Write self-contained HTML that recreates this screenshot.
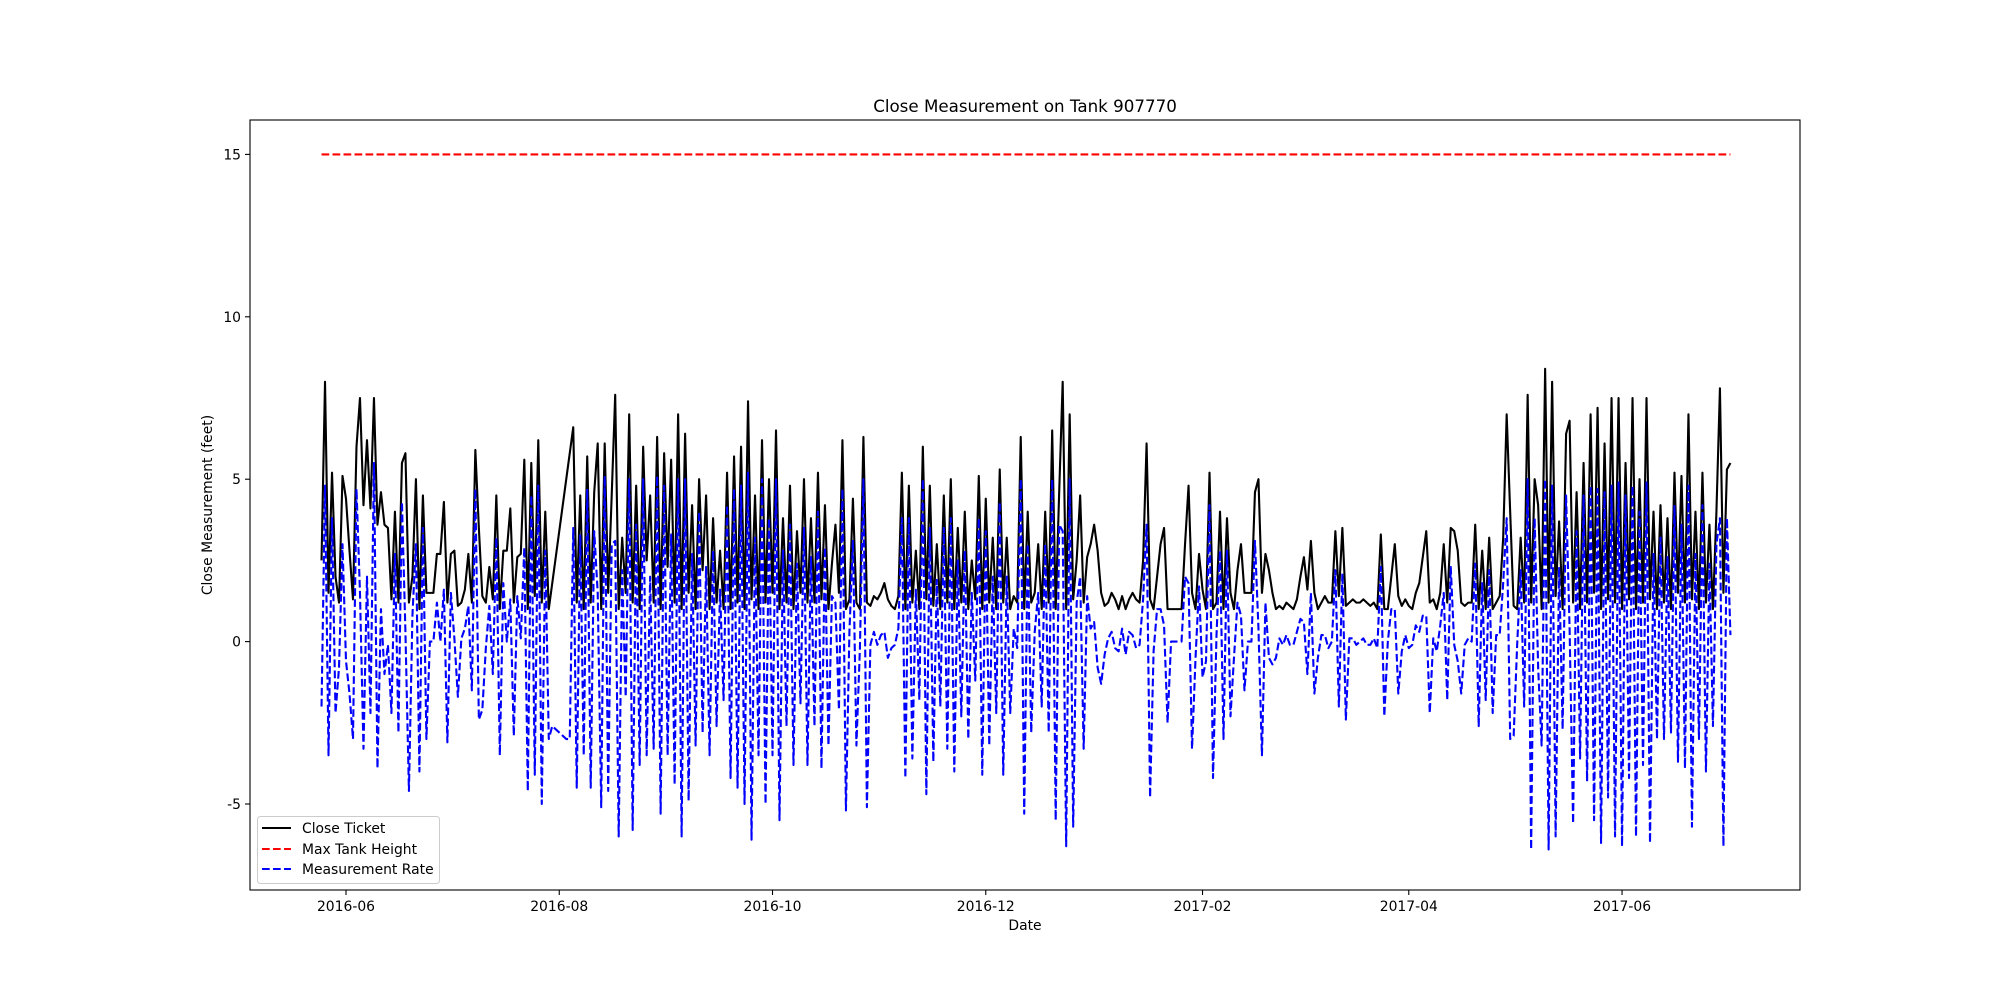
<!DOCTYPE html>
<html><head><meta charset="utf-8"><style>
html,body{margin:0;padding:0;background:#fff;}
svg{display:block;font-family:"DejaVu Sans","Liberation Sans",sans-serif;}
</style></head><body>
<svg id="chart" width="2000" height="1000" viewBox="0 0 2000 1000" xmlns="http://www.w3.org/2000/svg">
<rect x="0" y="0" width="2000" height="1000" fill="#fff"/>
<text x="1025" y="112" text-anchor="middle" font-size="16.7" fill="#000">Close Measurement on Tank 907770</text>
<g id="plot"></g>
<g id="axes"></g>
<text x="1025" y="930" text-anchor="middle" font-size="13.9" fill="#000">Date</text>
<text transform="translate(212,505) rotate(-90)" text-anchor="middle" font-size="13.9" fill="#000">Close Measurement (feet)</text>
<g id="legend">
<rect x="257.5" y="816.5" width="182" height="67" rx="3" fill="#fff" fill-opacity="0.8" stroke="#ccc" stroke-width="1"/>
<line x1="262" y1="828" x2="291" y2="828" stroke="#000" stroke-width="2.1"/>
<text x="302" y="833" font-size="13.9" fill="#000">Close Ticket</text>
<line x1="262" y1="849" x2="291" y2="849" stroke="#f00" stroke-width="2.1" stroke-dasharray="7.7 3.3"/>
<text x="302" y="854" font-size="13.9" fill="#000">Max Tank Height</text>
<line x1="262" y1="869" x2="291" y2="869" stroke="#00f" stroke-width="2.1" stroke-dasharray="7.7 3.3"/>
<text x="302" y="874" font-size="13.9" fill="#000">Measurement Rate</text>
</g>
</svg>
<script>
// days relative to 2016-06-01; series start at day -7 with one reading per day
const startDay = -7;
const closeTicket = [
2.5,8.0,1.5,5.2,2.0,1.2,5.1,4.4,2.8,1.3,6.0,7.5,4.2,6.2,4.1,7.5,3.6,4.6,3.6,3.5,
1.3,4.0,1.2,5.5,5.8,1.2,2.0,5.0,1.0,4.5,1.5,1.5,1.5,2.7,2.7,4.3,1.2,2.7,2.8,1.1,
1.2,1.6,2.7,1.2,5.9,3.5,1.4,1.2,2.3,1.3,4.5,1.0,2.8,2.8,4.1,1.2,2.6,2.7,5.6,1.0,
5.5,1.4,6.2,1.2,4.0,1.0,1.8,2.6,3.4,4.2,5.0,5.8,6.6,1.2,4.5,1.0,5.7,1.2,4.6,6.1,
1.0,6.1,1.5,4.5,7.6,1.0,3.2,1.5,7.0,1.2,4.8,1.0,6.0,2.5,4.5,1.2,6.3,1.0,5.8,2.3,
5.6,1.2,7.0,1.0,6.4,1.5,4.2,1.0,5.0,2.2,4.5,1.0,3.8,1.2,2.8,1.0,5.2,1.0,5.7,1.2,
6.0,1.0,7.4,1.3,4.5,1.0,6.2,1.2,5.0,1.5,6.5,1.0,3.8,1.2,4.8,1.0,3.4,1.5,5.0,1.2,
3.8,1.2,5.2,1.3,4.2,1.0,2.4,3.6,1.5,6.2,1.0,1.3,4.4,1.2,1.0,6.3,1.2,1.1,1.4,1.3,
1.5,1.8,1.3,1.1,1.0,1.4,5.2,1.0,4.8,1.2,2.8,1.0,6.0,1.3,4.8,1.1,3.0,1.0,4.5,1.2,
5.0,1.0,3.5,1.2,4.0,1.0,2.5,1.3,5.1,1.0,4.4,1.2,3.2,1.0,5.3,1.2,3.2,1.0,1.4,1.2,
6.3,1.0,4.0,1.2,1.5,3.0,1.0,4.0,1.2,6.5,1.0,4.6,8.0,1.0,7.0,1.3,2.5,4.5,1.2,2.6,
3.0,3.6,2.8,1.5,1.1,1.2,1.5,1.3,1.0,1.4,1.0,1.3,1.5,1.3,1.2,2.5,6.1,1.3,1.0,2.0,
3.0,3.5,1.0,1.0,1.0,1.0,1.0,3.0,4.8,1.5,1.0,2.7,1.6,1.0,5.2,1.0,1.2,4.0,1.0,3.8,
1.5,1.0,2.2,3.0,1.5,1.5,1.5,4.6,5.0,1.5,2.7,2.2,1.5,1.0,1.1,1.0,1.2,1.1,1.0,1.3,
2.0,2.6,1.6,3.1,1.5,1.0,1.2,1.4,1.2,1.2,3.4,1.4,3.5,1.1,1.2,1.3,1.2,1.2,1.3,1.2,
1.1,1.2,1.0,3.3,1.0,1.0,2.0,3.0,1.4,1.1,1.3,1.1,1.0,1.5,1.8,2.6,3.4,1.2,1.3,1.0,
1.5,3.0,1.2,3.5,3.4,2.8,1.2,1.1,1.2,1.2,3.6,1.0,2.8,1.0,3.2,1.0,1.2,1.4,3.2,7.0,
4.0,1.1,1.0,3.2,1.2,7.6,1.2,5.0,4.2,1.0,8.4,1.2,8.0,1.4,3.7,1.0,6.4,6.8,1.2,4.6,
1.0,5.5,1.2,7.0,1.5,7.2,1.0,6.1,1.3,7.5,1.2,7.5,1.0,5.5,1.3,7.5,1.0,5.0,1.2,7.5,
1.3,4.0,1.0,4.2,1.2,3.8,1.0,5.2,1.5,5.1,1.2,7.0,1.3,4.0,1.0,5.2,1.2,3.6,1.0,4.0,
7.8,1.5,5.3,5.5];
const measurementRate = [
-2.0,4.8,-3.5,3.8,-2.2,-0.8,3.0,-0.6,-1.6,-3.0,4.7,1.5,-3.3,2.0,-2.2,5.5,-3.9,1.0,-1.0,-0.1,
-2.2,2.7,-2.8,4.3,0.3,-4.6,0.8,3.0,-4.0,3.5,-3.0,0.0,0.0,1.2,0.0,1.6,-3.1,1.5,0.1,-1.7,
0.1,0.4,1.1,-1.5,4.7,-2.4,-2.1,-0.2,1.1,-1.0,3.2,-3.5,1.8,0.0,1.3,-2.9,1.4,0.1,2.9,-4.6,
4.5,-4.1,4.8,-5.0,2.8,-3.0,-2.6,-2.7,-2.8,-2.9,-3.0,-3.0,3.5,-4.5,3.3,-3.5,4.7,-4.5,3.4,1.5,
-5.1,5.1,-4.6,3.0,3.1,-6.0,2.2,-1.7,5.0,-5.8,3.6,-3.8,5.0,-3.5,2.0,-3.3,5.1,-5.3,4.8,-3.5,
3.3,-4.4,5.0,-6.0,5.0,-4.9,2.7,-3.2,4.0,-2.8,2.3,-3.5,2.8,-2.6,1.6,-1.8,4.2,-4.2,4.7,-4.5,
4.8,-5.0,5.2,-6.1,3.2,-3.5,5.0,-5.0,3.8,-3.5,5.0,-5.5,2.8,-2.6,3.6,-3.8,2.4,-1.9,3.5,-3.8,
2.6,-2.6,4.0,-3.9,2.9,-3.2,1.4,1.2,-2.1,4.7,-5.2,0.3,3.1,-3.2,-0.2,5.0,-5.1,-0.1,0.3,-0.1,
0.2,0.3,-0.5,-0.2,-0.1,0.4,3.8,-4.2,3.8,-3.6,1.6,-1.8,5.0,-4.7,3.5,-3.7,1.9,-2.0,3.5,-3.3,
3.8,-4.0,2.5,-2.3,2.8,-3.0,1.5,-1.2,3.8,-4.1,3.4,-3.2,2.0,-2.2,4.3,-4.1,2.0,-2.2,0.4,-0.2,
5.0,-5.3,3.0,-2.8,0.3,1.5,-2.0,3.0,-2.8,5.0,-5.5,3.6,3.4,-6.3,5.0,-5.7,1.2,2.0,-3.3,1.4,
0.4,0.6,-0.8,-1.3,-0.4,0.1,0.3,-0.2,-0.3,0.4,-0.4,0.3,0.2,-0.2,-0.1,1.3,3.6,-4.8,-0.3,1.0,
1.0,0.5,-2.5,0.0,0.0,0.0,0.0,2.0,1.8,-3.3,-0.5,1.7,-1.1,-0.6,4.2,-4.2,0.2,2.8,-3.0,2.8,
-2.3,-0.5,1.2,0.8,-1.5,0.0,0.0,3.1,0.4,-3.5,1.2,-0.5,-0.7,-0.5,0.1,-0.1,0.2,-0.1,-0.1,0.3,
0.7,0.6,-1.0,1.5,-1.6,-0.5,0.2,0.2,-0.2,0.0,2.2,-2.0,2.1,-2.4,0.1,0.1,-0.1,0.0,0.1,-0.1,
-0.1,0.1,-0.2,2.3,-2.3,0.0,1.0,1.0,-1.6,-0.3,0.2,-0.2,-0.1,0.5,0.3,0.8,0.8,-2.2,0.1,-0.3,
0.5,1.5,-1.8,2.3,-0.1,-0.6,-1.6,-0.1,0.1,0.0,2.4,-2.6,1.8,-1.8,2.2,-2.2,0.2,0.2,1.8,3.8,
-3.0,-2.9,-0.1,2.2,-2.0,5.0,-6.4,3.8,-0.8,-3.2,5.0,-6.4,4.8,-6.0,2.3,-2.7,4.5,0.4,-5.6,3.4,
-3.6,4.5,-4.3,4.8,-5.5,4.7,-6.2,4.6,-4.8,4.8,-6.0,4.9,-6.3,4.5,-4.2,4.8,-6.0,4.0,-3.8,4.9,
-6.2,2.7,-3.0,3.2,-3.0,2.6,-2.8,4.2,-3.7,3.6,-3.9,4.8,-5.7,2.7,-3.0,4.2,-4.0,2.4,-2.6,3.0,
3.8,-6.3,3.8,0.2];
const maxTankHeight = 15;
const maxTankDays = [-7, 396];
const yTickValues = [-5, 0, 5, 10, 15];
const xTickDays = [0, 61, 122, 183, 245, 304, 365];
const xTickLabels = ["2016-06","2016-08","2016-10","2016-12","2017-02","2017-04","2017-06"];

const NS = "http://www.w3.org/2000/svg";
const L = 250, R = 1800, T = 120, B = 890;
const xScale = d => 346 + d * 3.496;
const yScale = v => 641.6 - v * 32.48;

function mk(tag, attrs, parent) {
  const el = document.createElementNS(NS, tag);
  for (const k in attrs) el.setAttribute(k, attrs[k]);
  parent.appendChild(el);
  return el;
}
const plot = document.getElementById('plot');
const axes = document.getElementById('axes');

function seriesPath(vals) {
  return vals.map((v, i) => (i ? 'L' : 'M') + xScale(startDay + i).toFixed(2) + ' ' + yScale(v).toFixed(2)).join(' ');
}
const close = mk('path', {d: seriesPath(closeTicket), fill: 'none', stroke: '#000', 'stroke-width': 2.1, 'stroke-linejoin': 'round'}, plot);


const maxLine = mk('line', {x1: xScale(maxTankDays[0]), x2: xScale(maxTankDays[1]), y1: yScale(maxTankHeight), y2: yScale(maxTankHeight), stroke: '#f00', 'stroke-width': 2.1, 'stroke-dasharray': '7.7 3.3'}, plot);


const rate = mk('path', {d: seriesPath(measurementRate), fill: 'none', stroke: '#00f', 'stroke-width': 2.1, 'stroke-dasharray': '7.7 3.3', 'stroke-linejoin': 'round'}, plot);



const frame = mk('rect', {x: L, y: T, width: R - L, height: B - T, fill: 'none', stroke: '#000', 'stroke-width': 1.1}, axes);



yTickValues.forEach(v => {
  const y = yScale(v);
  const t = mk('line', {x1: L - 5, x2: L, y1: y, y2: y, stroke: '#000', 'stroke-width': 1.1}, axes);
  
  
  const lb = mk('text', {x: L - 9, y: y + 5, 'text-anchor': 'end', 'font-size': 13.9, fill: '#000'}, axes);
  lb.textContent = String(v);
  
  
});
xTickDays.forEach((d, i) => {
  const x = xScale(d);
  const t = mk('line', {x1: x, x2: x, y1: B, y2: B + 5, stroke: '#000', 'stroke-width': 1.1}, axes);
  
  
  const lb = mk('text', {x: x, y: B + 21, 'text-anchor': 'middle', 'font-size': 13.9, fill: '#000'}, axes);
  lb.textContent = xTickLabels[i];
  
  
});
</script>
</body></html>
